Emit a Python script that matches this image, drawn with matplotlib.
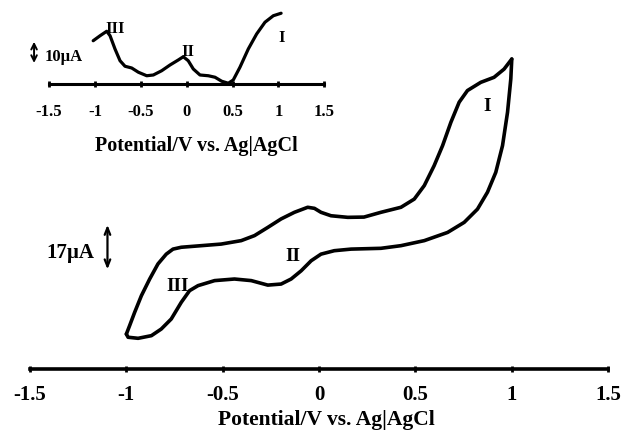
import matplotlib.pyplot as plt


# main cyclic voltammogram (potential in V, current in uA, zero at the drawn axis)
FORWARD_V = [-1.0, -0.983, -0.957, -0.922, -0.879, -0.836, -0.793, -0.758,
             -0.715, -0.611, -0.508, -0.404, -0.335, -0.266, -0.197, -0.128,
             -0.059, -0.024, 0.010, 0.062, 0.149, 0.233, 0.321, 0.425, 0.494,
             0.546, 0.597, 0.641, 0.684, 0.727, 0.770, 0.839, 0.908, 0.960,
             1.0]
FORWARD_I = [13.2, 16.4, 21.4, 27.7, 34.0, 39.7, 43.4, 45.3,
             46.0, 46.6, 47.2, 48.5, 50.4, 53.5, 56.7, 59.2,
             61.1, 60.7, 59.2, 57.9, 57.3, 57.4, 59.2, 61.1, 64.2,
             69.3, 76.8, 84.4, 93.2, 100.8, 105.2, 108.3, 110.2, 113.3,
             117.1]

REVERSE_V = [1.0, 0.995, 0.978, 0.952, 0.917, 0.874, 0.822, 0.753, 0.667,
             0.546, 0.425, 0.321, 0.166, 0.079, 0.010, -0.041, -0.093,
             -0.145, -0.197, -0.266, -0.352, -0.439, -0.542, -0.628, -0.672,
             -0.715, -0.767, -0.819, -0.870, -0.939, -0.991, -1.0]
REVERSE_I = [117.1, 109.6, 97.0, 84.4, 74.3, 66.8, 60.4, 55.4, 51.6,
             48.5, 46.6, 45.6, 45.3, 44.7, 43.4, 40.9, 37.1,
             34.0, 32.1, 31.7, 33.4, 34.0, 33.4, 31.5, 29.6,
             25.2, 18.9, 15.1, 12.6, 11.6, 12.0, 13.2]

# inset trace
INSET_V = [-1.02, -0.945, -0.872, -0.836, -0.782, -0.727, -0.673, -0.600,
           -0.527, -0.436, -0.364, -0.273, -0.182, -0.092, -0.037, 0.017,
           0.072, 0.145, 0.236, 0.309, 0.382, 0.454, 0.508, 0.581, 0.672,
           0.763, 0.854, 0.945, 1.03]
INSET_I = [17.3, 19.3, 21.1, 19.3, 14.0, 9.3, 7.1, 6.4,
           4.7, 3.3, 3.6, 5.3, 7.6, 9.6, 10.9, 9.3,
           6.0, 3.6, 3.3, 2.7, 1.1, 0.3, 1.6, 6.7, 14.0,
           20.0, 24.7, 27.3, 28.3]

TICKS = [-1.5, -1.0, -0.5, 0.0, 0.5, 1.0, 1.5]
TICK_LABELS = ["-1.5", "-1", "-0.5", "0", "0.5", "1", "1.5"]

X_LABEL = "Potential/V vs. Ag|AgCl"

plt.rcParams["font.family"] = ["Liberation Serif", "DejaVu Serif"]
plt.rcParams["font.weight"] = "bold"


def style_axis(axes, label_size, line_width, pad):
    for side in ["left", "top", "right"]:
        axes.spines[side].set_visible(False)

    axes.spines["bottom"].set_linewidth(line_width)
    axes.set_yticks([])
    axes.set_xticks(TICKS)
    axes.set_xticklabels(TICK_LABELS, fontweight="bold")
    axes.set_xlim(-1.5, 1.5)
    axes.tick_params(
        axis="x",
        direction="inout",
        length=5,
        width=2,
        labelsize=label_size,
        pad=pad,
    )
    axes.patch.set_alpha(0)


def draw_trace(axes, potentials, currents, width):
    axes.plot(
        potentials,
        currents,
        color="black",
        linewidth=width,
        solid_joinstyle="round",
        solid_capstyle="round",
    )


figure = plt.figure(figsize=(6.25, 4.31), dpi=100)

main_axes = figure.add_axes([0.048, 0.1415, 0.925, 0.7425])
draw_trace(main_axes, FORWARD_V, FORWARD_I, 2.6)
draw_trace(main_axes, REVERSE_V, REVERSE_I, 2.6)
main_axes.set_ylim(0, 120.9)
style_axis(main_axes, 15, 2.6, 8)
main_axes.set_xlabel(X_LABEL, fontsize=15.5, fontweight="bold", labelpad=4)
main_axes.xaxis.label.set_x(0.512)

main_axes.text(0.874, 99.5, "I", fontsize=14, ha="center", va="center")
main_axes.text(-0.136, 42.8, "II", fontsize=14, ha="center", va="center")
main_axes.text(-0.732, 31.5, "III", fontsize=14, ha="center", va="center")

# scale bar for the main plot
main_axes.annotate(
    "", xy=(-1.098, 55.5), xytext=(-1.098, 36.6),
    arrowprops=dict(arrowstyle="<->,head_length=0.5,head_width=0.2",
                    color="black", lw=1.6),
)
main_axes.text(-1.166, 44.2, "17µA", fontsize=15, ha="right", va="center")

inset_axes = figure.add_axes([0.0787, 0.8028, 0.44, 0.1694])
draw_trace(inset_axes, INSET_V, INSET_I, 2.3)
inset_axes.set_ylim(0, 29.2)
style_axis(inset_axes, 12, 2.2, 11.5)
inset_axes.set_xlabel(X_LABEL, fontsize=14.5, fontweight="bold", labelpad=11.5)
inset_axes.xaxis.label.set_x(0.534)

inset_axes.text(-0.782, 22.4, "III", fontsize=12, ha="center", va="center")
inset_axes.text(0.01, 13.3, "II", fontsize=12, ha="center", va="center")
inset_axes.text(1.036, 18.7, "I", fontsize=12, ha="center", va="center")

inset_axes.annotate(
    "", xy=(-1.665, 18.0), xytext=(-1.665, 7.3),
    arrowprops=dict(arrowstyle="<->,head_length=0.4,head_width=0.2",
                    color="black", lw=1.4),
    annotation_clip=False,
)
inset_axes.text(-1.545, 11.3, "10µA", fontsize=12, ha="left", va="center")

figure.savefig("out.png", dpi=100)
